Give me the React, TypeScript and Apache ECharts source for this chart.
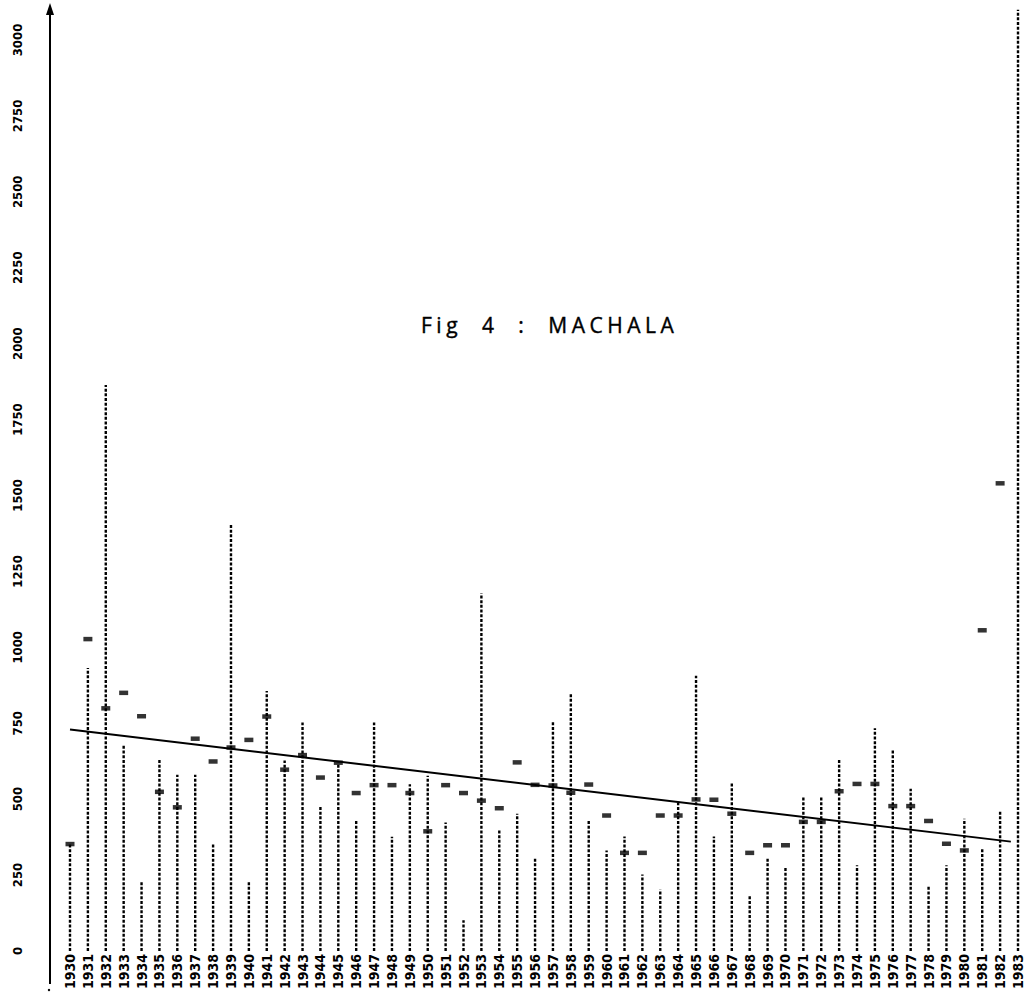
import React, { useEffect, useRef } from 'react';
import * as echarts from 'echarts';

const YEARS = [
  1930, 1931, 1932, 1933, 1934, 1935, 1936, 1937, 1938, 1939,
  1940, 1941, 1942, 1943, 1944, 1945, 1946, 1947, 1948, 1949,
  1950, 1951, 1952, 1953, 1954, 1955, 1956, 1957, 1958, 1959,
  1960, 1961, 1962, 1963, 1964, 1965, 1966, 1967, 1968, 1969,
  1970, 1971, 1972, 1973, 1974, 1975, 1976, 1977, 1978, 1979,
  1980, 1981, 1982, 1983,
];

// height of the dashed column for each year
const LINE_TOP = [
  352, 932, 1864, 680, 232, 631, 580, 580, 352, 1408,
  230, 856, 627, 752, 478, 620, 429, 752, 376, 549,
  577, 423, 101, 1178, 402, 452, 304, 753, 851, 428,
  331, 377, 252, 202, 487, 906, 377, 553, 181, 304,
  279, 507, 507, 632, 282, 733, 660, 534, 213, 282,
  435, 337, 463, 3100,
];

// small bar marker for each year (null = off the chart)
const MARKER = [
  352, 1027, 799, 850, 773, 524, 473, 699, 624, 670,
  695, 772, 597, 645, 571, 620, 520, 546, 546, 520,
  394, 546, 520, 495, 470, 621, 547, 545, 521, 548,
  446, 323, 323, 446, 446, 499, 498, 452, 323, 348,
  348, 425, 425, 526, 550, 550, 477, 477, 428, 353,
  331, 1056, 1540, null,
];

const TREND = [
  [1930, 729],
  [1982.6, 360],
];

const Y_MIN = 0;
const Y_MAX = 3000;
const Y_STEP = 250;

const TITLE = 'Fig  4  :  MACHALA';

const NARROW = "'Liberation Sans Narrow', 'DejaVu Sans Condensed', 'Roboto Condensed', 'Liberation Sans', sans-serif";

export default function App() {
  const ref = useRef<HTMLDivElement>(null);

  useEffect(() => {
    document.body.style.margin = '0';
    document.body.style.overflow = 'hidden';
    const chart = echarts.init(ref.current!, null, { renderer: 'svg' });

    const applySpacing = () => {
      const texts = ref.current?.querySelectorAll('text');
      texts?.forEach((t) => {
        if (t.textContent && t.textContent.indexOf('MACHALA') >= 0) {
          t.setAttribute('letter-spacing', '4.5');
        }
      });
    };
    chart.on('rendered', applySpacing);

    chart.setOption({
      animation: false,
      backgroundColor: '#ffffff',
      title: {
        text: TITLE,
        left: 416,
        top: 309,
        textStyle: {
          fontFamily: "'Open Sans', 'Lato', sans-serif",
          fontSize: 21,
          fontWeight: 'normal',
          color: '#000',
          textBorderColor: '#000',
          textBorderWidth: 0.4,
        },
      },
      grid: { left: 70, right: 8, top: 40, bottom: 41 },
      xAxis: {
        type: 'value',
        min: YEARS[0],
        max: YEARS[YEARS.length - 1],
        interval: 1,
        axisLine: { show: false },
        axisTick: { show: false },
        splitLine: { show: false },
        axisLabel: {
          rotate: 90,
          margin: 3,
          fontFamily: NARROW,
          fontWeight: 'bold',
          fontSize: 14,
          color: '#000',
          formatter: (v: number) => String(v),
        },
      },
      yAxis: {
        type: 'value',
        min: Y_MIN,
        max: Y_MAX,
        interval: Y_STEP,
        offset: 20,
        axisLine: { show: false },
        axisTick: { show: false },
        splitLine: { show: false },
        axisLabel: {
          rotate: 90,
          margin: 26,
          fontFamily: NARROW,
          fontWeight: 'bold',
          fontSize: 13,
          color: '#000',
          formatter: (v: number) => String(v),
        },
      },
      graphic: [
        {
          type: 'line',
          silent: true,
          shape: { x1: 50, y1: 13, x2: 50, y2: 984 },
          style: { stroke: '#000', lineWidth: 2 },
        },
        {
          type: 'circle',
          silent: true,
          shape: { cx: 49, cy: 990, r: 1.2 },
          style: { fill: '#000' },
        },
        {
          type: 'polygon',
          silent: true,
          shape: { points: [[46, 15], [54, 15], [50, 3]] },
          style: { fill: '#000' },
        },
      ],
      series: [
        {
          type: 'custom',
          silent: true,
          clip: false,
          encode: { x: 0, y: 1 },
          data: YEARS.map((y, i) => [y, LINE_TOP[i]]),
          renderItem: (params: any, api: any) => {
            const p0 = api.coord([api.value(0), 0]);
            const p1 = api.coord([api.value(0), api.value(1)]);
            return {
              type: 'line',
              shape: { x1: p0[0], y1: p0[1], x2: p1[0], y2: p1[1] },
              style: { stroke: '#000', lineWidth: 2.4, lineDash: [3, 1.7] },
            };
          },
        },
        {
          type: 'scatter',
          silent: true,
          symbol: 'rect',
          symbolSize: [9, 4.5],
          itemStyle: { color: '#000' },
          data: YEARS.map((y, i) => [y, MARKER[i]]).filter((d) => d[1] !== null),
        },
        {
          type: 'line',
          silent: true,
          symbol: 'none',
          lineStyle: { color: '#000', width: 2 },
          data: TREND,
        },
      ],
    });
    applySpacing();

    return () => chart.dispose();
  }, []);

  return <div ref={ref} style={{ width: 1026, height: 992 }} />;
}
